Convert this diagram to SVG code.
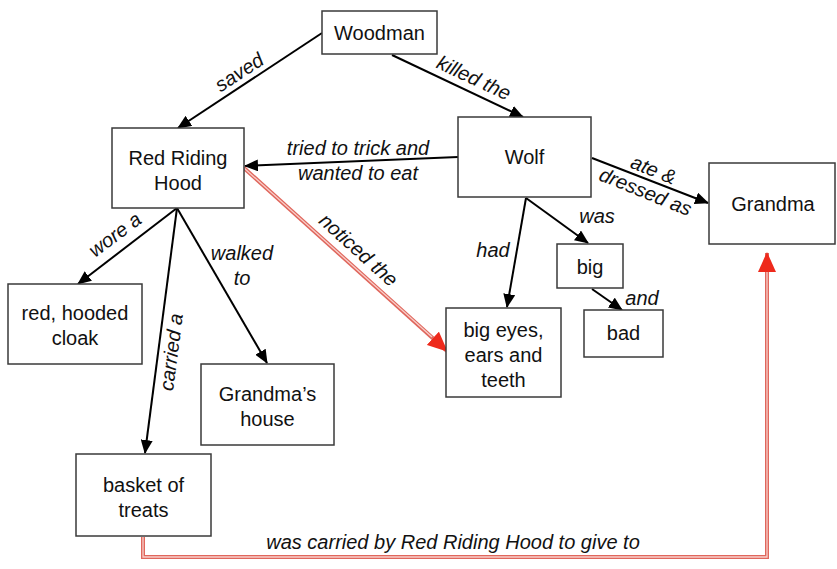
<svg xmlns="http://www.w3.org/2000/svg" width="837" height="569" viewBox="0 0 837 569">
<style>
.box{fill:#fff;stroke:#3a3a3a;stroke-width:1.5}
.nt{font-family:"Liberation Sans",Arial,sans-serif;font-size:20px;fill:#111;text-anchor:middle}
.lb{font-family:"Liberation Sans",Arial,sans-serif;font-size:20px;font-style:italic;fill:#111;text-anchor:middle}
.cn{fill:none;stroke:#000;stroke-width:2;marker-end:url(#ah)}
.rd{fill:none;stroke:#e0675d;stroke-width:4}
.rdi{fill:none;stroke:#f8cfca;stroke-width:1.3}
</style>
<defs>
<marker id="ah" viewBox="0 0 14 12" refX="13" refY="6" markerWidth="14" markerHeight="12" markerUnits="userSpaceOnUse" orient="auto"><path d="M0,0 L14,6 L0,12 Z" fill="#000"/></marker>
<marker id="rh" viewBox="0 0 20 18" refX="19" refY="9" markerWidth="20" markerHeight="18" markerUnits="userSpaceOnUse" orient="auto"><path d="M0,0 L20,9 L0,18 Z" fill="#ee2a1c"/></marker>
</defs>
<rect width="837" height="569" fill="#fff"/>
<g id="connectors">
<path class="cn" d="M322,33 L178,128"/>
<path class="cn" d="M392,55 L523,117"/>
<path class="cn" d="M458,157 L245,166"/>
<path class="cn" d="M592,158 L708,203"/>
<path class="cn" d="M526,198 L507,307"/>
<path class="cn" d="M526,198 L588,243"/>
<path class="cn" d="M592,289 L622,310"/>
<path class="cn" d="M177,208 L78,284"/>
<path class="cn" d="M177,208 L267,363"/>
<path class="cn" d="M177,208 L145,453"/>
<path class="rd" d="M244,168 L447,351" marker-end="url(#rh)"/>
<path class="rdi" d="M244,168 L432,337"/>
<path class="rd" d="M143,537 V557 H767 V253" marker-end="url(#rh)"/>
<path class="rdi" d="M143,537 V557 H767 V272"/>
<text class="lb" transform="translate(243,78) rotate(-33)">saved</text>
<text class="lb" transform="translate(471,84) rotate(25)">killed the</text>
<text class="lb" x="358" y="155">tried to trick and</text>
<text class="lb" x="358" y="180">wanted to eat</text>
<text class="lb" transform="translate(651,176) rotate(22)">ate &amp;</text>
<text class="lb" transform="translate(643,198) rotate(22)">dressed as</text>
<text class="lb" x="597" y="223">was</text>
<text class="lb" x="493" y="257">had</text>
<text class="lb" x="642" y="305">and</text>
<text class="lb" transform="translate(119,240) rotate(-37)">wore a</text>
<text class="lb" x="242" y="260">walked</text>
<text class="lb" x="242" y="285">to</text>
<text class="lb" transform="translate(178,353) rotate(-82.6)">carried a</text>
<text class="lb" transform="translate(354,255) rotate(42)">noticed the</text>
<text class="lb" x="453" y="549">was carried by Red Riding Hood to give to</text>
</g>
<g id="woodman"><rect class="box" x="322" y="11" width="115" height="43"/><text class="nt" x="379.5" y="40">Woodman</text></g>
<g id="rrh"><rect class="box" x="112" y="128" width="132" height="80"/><text class="nt" x="178" y="165">Red Riding</text><text class="nt" x="178" y="190">Hood</text></g>
<g id="wolf"><rect class="box" x="458" y="117" width="133" height="80"/><text class="nt" x="524.5" y="164">Wolf</text></g>
<g id="grandma"><rect class="box" x="709" y="163" width="126" height="81"/><text class="nt" x="773" y="211">Grandma</text></g>
<g id="big"><rect class="box" x="557" y="244" width="66" height="44"/><text class="nt" x="590" y="274">big</text></g>
<g id="bad"><rect class="box" x="584" y="310" width="79" height="47"/><text class="nt" x="623.5" y="340">bad</text></g>
<g id="bigeyes"><rect class="box" x="446" y="308" width="115" height="89"/><text class="nt" x="503.5" y="337">big eyes,</text><text class="nt" x="503.5" y="362">ears and</text><text class="nt" x="503.5" y="387">teeth</text></g>
<g id="cloak"><rect class="box" x="8" y="284" width="134" height="80"/><text class="nt" x="75" y="320">red, hooded</text><text class="nt" x="75" y="345">cloak</text></g>
<g id="house"><rect class="box" x="201" y="364" width="133" height="81"/><text class="nt" x="267.5" y="401">Grandma’s</text><text class="nt" x="267.5" y="426">house</text></g>
<g id="basket"><rect class="box" x="76" y="454" width="135" height="82"/><text class="nt" x="143.5" y="492">basket of</text><text class="nt" x="143.5" y="517">treats</text></g>
</svg>
